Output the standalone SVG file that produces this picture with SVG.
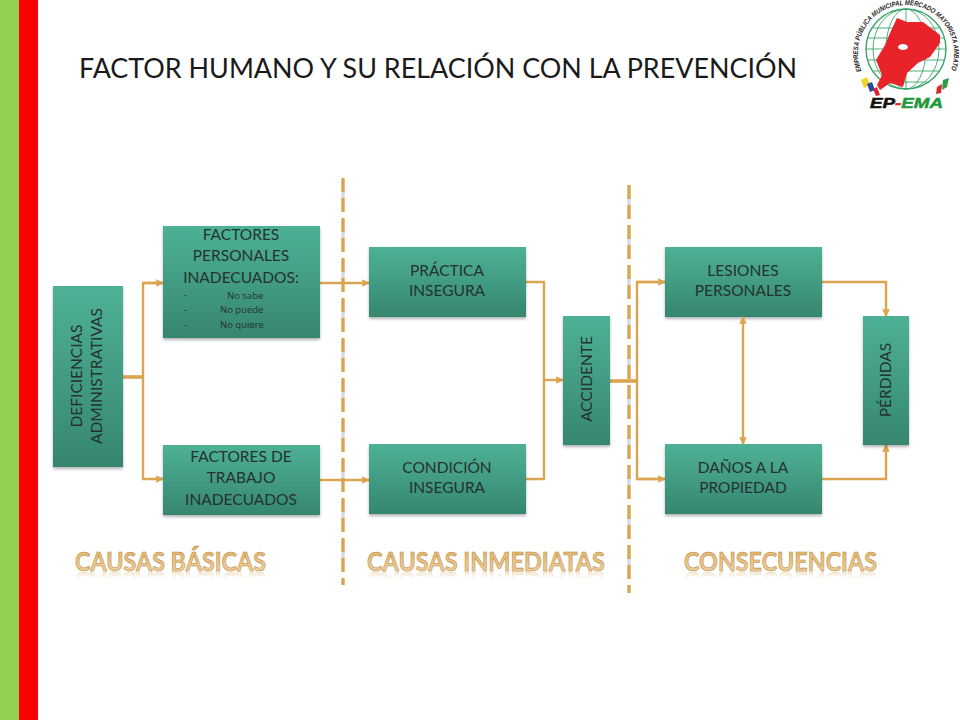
<svg xmlns="http://www.w3.org/2000/svg" width="960" height="720" viewBox="0 0 960 720">
<style>
.box{fill:url(#g);filter:url(#sh)}
.t{font-family:Lato,"Open Sans","Liberation Sans",sans-serif;font-size:15.5px;fill:#24332f;text-anchor:middle}
.s{font-family:"Open Sans","Liberation Sans",sans-serif;font-size:9.5px;text-anchor:start}
.c{fill:none;stroke:#dba451;stroke-width:2.4}
.th{stroke-width:3.6}
.d{fill:none;stroke:#dba451;stroke-width:3.4;stroke-dasharray:14 6}
.d2{fill:none;stroke:#d5d9e6;stroke-width:3.4;stroke-dasharray:6 34;stroke-dashoffset:-14}
.lab{font-family:Lato,"Open Sans","Liberation Sans",sans-serif;font-size:26.5px;font-weight:700;fill:url(#gold);stroke:#bd8736;stroke-width:.6}
.ring{font-family:"Liberation Sans",sans-serif;font-weight:bold;font-style:italic;font-size:7px;fill:#222}
.globe{fill:none;stroke:#3aa56a;stroke-width:.9}
</style>
<defs>
<linearGradient id="g" x1="0" y1="0" x2="0" y2="1"><stop offset="0" stop-color="#4eb196"/><stop offset="1" stop-color="#36866f"/></linearGradient>
<linearGradient id="gold" x1="0" y1="0" x2="0" y2="1"><stop offset="0" stop-color="#dfb066"/><stop offset="1" stop-color="#efd6ac"/></linearGradient>
<linearGradient id="fade" gradientUnits="userSpaceOnUse" x1="0" y1="571" x2="0" y2="579"><stop offset="0" stop-color="#fff" stop-opacity=".45"/><stop offset="1" stop-color="#fff" stop-opacity="0"/></linearGradient>
<mask id="rm" maskUnits="userSpaceOnUse" x="60" y="569" width="840" height="14"><rect x="60" y="569" width="840" height="14" fill="url(#fade)"/></mask>
<filter id="sh" x="-10%" y="-10%" width="120%" height="125%"><feDropShadow dx="0" dy="2" stdDeviation="1.5" flood-color="#000" flood-opacity=".3"/></filter>
<marker id="a" viewBox="0 0 8 8" refX="7" refY="4" markerWidth="3.2" markerHeight="3.2" orient="auto-start-reverse"><path d="M0 0L8 4L0 8z" fill="#dba451"/></marker>
<path id="arc" d="M861.5 71A48 48 0 1 1 950.5 71"/>
</defs>
<rect width="960" height="720" fill="#fff"/>
<rect x="0" y="0" width="19" height="720" fill="#92d050"/>
<rect x="19" y="0" width="19" height="720" fill="#ff0000"/>
<text x="79" y="78" font-family="Lato,Open Sans,Liberation Sans,sans-serif" font-size="27px" fill="#1a1a1a" textLength="718" lengthAdjust="spacingAndGlyphs">FACTOR HUMANO Y SU RELACIÓN CON LA PREVENCIÓN</text>

<g id="logo">
<circle cx="906" cy="49" r="40" fill="#fff" stroke="#3aa56a" stroke-width="1.4"/>
<ellipse class="globe" cx="906" cy="49" rx="20" ry="40"/>
<ellipse class="globe" cx="906" cy="49" rx="33" ry="40"/>
<path class="globe" d="M873 28H939M868 38H944M866 49H946M868 60H944M873 71H939M884 82H928M906 9V89"/>
<path d="M877 85L882 75L876 60L885 45L890 33L897 18L907 22L923 22L940 35L940 43L930 57L918 63L907 73L903 87L890 83L880 90Z" fill="#e8232a"/>
<ellipse cx="903" cy="47" rx="5" ry="3" fill="#fff"/>
<text class="ring"><textPath href="#arc" textLength="186" lengthAdjust="spacingAndGlyphs">EMPRESA PÚBLICA MUNICIPAL MERCADO MAYORISTA AMBATO</textPath></text>
<path d="M861 80L867 77L870 85L864 88Z" fill="#f5d327"/><path d="M867 84L872 82L875 90L870 92Z" fill="#2a4aa0"/><path d="M873 89L877 87L880 95L876 96Z" fill="#d9262c"/>
<path d="M937 87L942 84L941 93L936 94Z" fill="#d9262c"/><path d="M943 80L949 78L947 87L942 90Z" fill="#2f9a48"/>
<text x="870" y="108" font-family="Liberation Sans,sans-serif" font-weight="bold" font-style="italic" font-size="14px" stroke="#111" stroke-width=".5" fill="#111" textLength="73" lengthAdjust="spacingAndGlyphs">EP<tspan fill="#d9262c" stroke="#d9262c">-</tspan><tspan fill="#1f9a3c" stroke="#1f9a3c">EMA</tspan></text>
</g>

<g id="connectors">
<path class="c th" d="M123 377H143"/>
<path class="c" d="M163 283H143V479H163" marker-end="url(#a)"/>
<path class="c" d="M143 283H163" marker-end="url(#a)"/>
<path class="c" d="M320 283H369" marker-end="url(#a)"/>
<path class="c" d="M320 480H369" marker-end="url(#a)"/>
<path class="c" d="M526 282H544V479H526"/>
<path class="c" d="M544 380H563" marker-end="url(#a)"/>
<path class="c th" d="M610 381H637"/>
<path class="c" d="M665 282H637V479H665"/>
<path class="c" d="M637 282H665" marker-end="url(#a)"/>
<path class="c" d="M637 479H665" marker-end="url(#a)"/>
<path class="c" d="M822 282H886V316" marker-end="url(#a)"/>
<path class="c" d="M822 479H886V445" marker-end="url(#a)"/>
<path class="d" d="M343 178V585"/>
<path class="d2" d="M343 178V585"/>
<path class="d" d="M629 185V593"/>
<path class="d2" d="M629 185V593"/>
</g>

<g id="n1"><rect class="box" x="53" y="286" width="70" height="181"/><text class="t" transform="translate(88 376) rotate(-90)"><tspan x="0" y="-6">DEFICIENCIAS</tspan><tspan x="0" y="14">ADMINISTRATIVAS</tspan></text></g>
<g id="n2"><rect class="box" x="163" y="226" width="157" height="112"/>
<text class="t"><tspan x="241" y="240">FACTORES</tspan><tspan x="241" y="261">PERSONALES</tspan><tspan x="241" y="283">INADECUADOS:</tspan></text>
<text class="t s"><tspan x="184" y="298">-</tspan><tspan x="227" y="299">No sabe</tspan><tspan x="184" y="313">-</tspan><tspan x="220" y="313">No puede</tspan><tspan x="184" y="328">-</tspan><tspan x="220" y="328">No quiere</tspan></text></g>
<g id="n3"><rect class="box" x="163" y="445" width="157" height="70"/><text class="t"><tspan x="241" y="462">FACTORES DE</tspan><tspan x="241" y="483">TRABAJO</tspan><tspan x="241" y="505">INADECUADOS</tspan></text></g>
<g id="n4"><rect class="box" x="369" y="247" width="157" height="70"/><text class="t"><tspan x="447" y="276">PRÁCTICA</tspan><tspan x="447" y="296">INSEGURA</tspan></text></g>
<g id="n5"><rect class="box" x="369" y="444" width="157" height="70"/><text class="t"><tspan x="447" y="473">CONDICIÓN</tspan><tspan x="447" y="493">INSEGURA</tspan></text></g>
<g id="n6"><rect class="box" x="563" y="316" width="47" height="129"/><text class="t" transform="translate(592 379) rotate(-90)">ACCIDENTE</text></g>
<g id="n7"><rect class="box" x="665" y="247" width="157" height="70"/><text class="t"><tspan x="743" y="276">LESIONES</tspan><tspan x="743" y="296">PERSONALES</tspan></text></g>
<g id="n8"><rect class="box" x="665" y="444" width="157" height="70"/><text class="t"><tspan x="743" y="473">DAÑOS A LA</tspan><tspan x="743" y="493">PROPIEDAD</tspan></text></g>
<g id="n9"><rect class="box" x="863" y="316" width="46" height="129"/><text class="t" transform="translate(891 380) rotate(-90)">PÉRDIDAS</text></g>
<g id="link"><path class="c" d="M743 317V444" marker-start="url(#a)" marker-end="url(#a)"/></g>

<g id="labels">
<text id="l1" class="lab" x="75" y="571" textLength="191" lengthAdjust="spacingAndGlyphs">CAUSAS BÁSICAS</text>
<text id="l2" class="lab" x="367" y="571" textLength="238" lengthAdjust="spacingAndGlyphs">CAUSAS INMEDIATAS</text>
<text id="l3" class="lab" x="684" y="571" textLength="193" lengthAdjust="spacingAndGlyphs">CONSECUENCIAS</text>
<g mask="url(#rm)"><use href="#l1" transform="matrix(1 0 0 -1 0 1143)"/><use href="#l2" transform="matrix(1 0 0 -1 0 1143)"/><use href="#l3" transform="matrix(1 0 0 -1 0 1143)"/></g>
</g>
</svg>
